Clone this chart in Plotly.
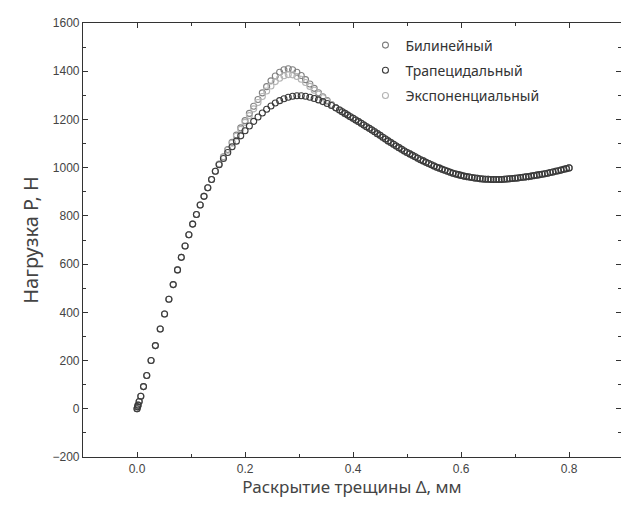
import plotly.graph_objects as go

# Shared initial (linear) branch: displacement, mm and load, N
rise_x = [0.0, 0.001, 0.002, 0.004, 0.007, 0.012, 0.018, 0.026, 0.034, 0.043, 0.051,
          0.059, 0.067, 0.075, 0.082, 0.089, 0.096, 0.103, 0.110, 0.117, 0.124,
          0.131, 0.138, 0.145]
rise_y = [0, 8, 15, 30, 52, 92, 138, 200, 262, 331, 393,
          454, 515, 576, 628, 675, 722, 766, 806, 845, 881,
          917, 951, 985]

# Peak region, per cohesive law
bil_x = [0.152, 0.160, 0.168, 0.176, 0.184, 0.192, 0.200, 0.208, 0.216, 0.224, 0.232,
         0.240, 0.248, 0.256, 0.264, 0.272, 0.280, 0.288, 0.296, 0.304, 0.312,
         0.320, 0.328, 0.336, 0.344, 0.352, 0.360, 0.368]
bil_y = [1015, 1045, 1075, 1105, 1135, 1165, 1195, 1225, 1255, 1283, 1310,
         1336, 1360, 1380, 1396, 1406, 1410, 1406, 1396, 1382, 1365,
         1347, 1329, 1311, 1294, 1278, 1262, 1248]

trap_x = [0.152, 0.160, 0.168, 0.176, 0.184, 0.192, 0.200, 0.208, 0.216, 0.224, 0.232,
          0.240, 0.248, 0.256, 0.264, 0.272, 0.280, 0.288, 0.296, 0.304, 0.312,
          0.320, 0.328, 0.336, 0.344, 0.352, 0.360, 0.368]
trap_y = [1012, 1038, 1063, 1087, 1110, 1132, 1153, 1173, 1192, 1210, 1227,
          1242, 1256, 1268, 1278, 1286, 1292, 1296, 1298, 1298, 1296,
          1292, 1287, 1281, 1274, 1266, 1258, 1248]

exp_x = [0.152, 0.160, 0.168, 0.176, 0.184, 0.192, 0.200, 0.208, 0.216, 0.224, 0.232,
         0.240, 0.248, 0.256, 0.264, 0.272, 0.280, 0.288, 0.296, 0.304, 0.312,
         0.320, 0.328, 0.336, 0.344, 0.352, 0.360, 0.368]
exp_y = [1014, 1043, 1072, 1101, 1130, 1159, 1188, 1216, 1244, 1270, 1295,
         1318, 1339, 1357, 1371, 1381, 1386, 1385, 1378, 1367, 1353,
         1337, 1321, 1305, 1290, 1275, 1261, 1248]

# Shared softening/tail branch
tail_x = [0.375, 0.380, 0.385, 0.390, 0.395, 0.400, 0.405, 0.410, 0.415, 0.420,
          0.425, 0.430, 0.435, 0.440, 0.445, 0.450, 0.455, 0.460, 0.465, 0.470,
          0.475, 0.480, 0.485, 0.490, 0.495, 0.500, 0.505, 0.510, 0.515, 0.520,
          0.525, 0.530, 0.535, 0.540, 0.545, 0.550, 0.555, 0.560, 0.565, 0.570,
          0.575, 0.580, 0.585, 0.590, 0.595, 0.600, 0.605, 0.610, 0.615, 0.620,
          0.625, 0.630, 0.635, 0.640, 0.645, 0.650, 0.655, 0.660, 0.665, 0.670,
          0.675, 0.680, 0.685, 0.690, 0.695, 0.700, 0.705, 0.710, 0.715, 0.720,
          0.725, 0.730, 0.735, 0.740, 0.745, 0.750, 0.755, 0.760, 0.765, 0.770,
          0.775, 0.780, 0.785, 0.790, 0.795, 0.800]
tail_y = [1239, 1232, 1225, 1218, 1211, 1205, 1198, 1191, 1184, 1177,
          1170, 1163, 1156, 1149, 1141, 1134, 1126, 1119, 1111, 1104,
          1097, 1090, 1083, 1076, 1069, 1063, 1057, 1051, 1045, 1039,
          1033, 1028, 1022, 1017, 1012, 1007, 1002, 998, 993, 989,
          985, 981, 977, 974, 971, 968, 965, 963, 961, 959,
          957, 956, 954, 953, 952, 952, 951, 951, 951, 951,
          951, 952, 953, 954, 955, 956, 957, 959, 960, 962,
          963, 965, 967, 969, 971, 973, 975, 977, 980, 982,
          985, 987, 990, 993, 996, 999]

names = ["Билинейный", "Трапецидальный", "Экспоненциальный"]
colors = ["#808080", "#3a3a3a", "#b4b4b4"]
series = [(bil_x, bil_y), (trap_x, trap_y), (exp_x, exp_y)]
ranks = [1, 2, 3]
draw_order = [0, 2, 1]  # trapezoidal drawn on top, as in the reference

fig = go.Figure()
for i in draw_order:
    px, py = series[i]
    fig.add_trace(go.Scatter(
        x=rise_x + px + tail_x,
        y=rise_y + py + tail_y,
        mode="markers",
        name=names[i],
        legendgroup=f"g{ranks[i]}",
        legendrank=ranks[i],
        marker=dict(symbol="circle-open", size=6, color=colors[i],
                    line=dict(width=1.1, color=colors[i])),
    ))

axis_common = dict(
    showline=True, linecolor="#333", linewidth=1.2, mirror="allticks",
    ticks="inside", ticklen=5, tickcolor="#333", showgrid=False, zeroline=False,
    tickfont=dict(family="Liberation Sans, Arial", size=12, color="#444"),
)
fig.update_layout(
    width=621, height=513,
    margin=dict(l=83, r=0, t=23, b=56),
    paper_bgcolor="white", plot_bgcolor="white",
    xaxis=dict(range=[-0.1, 0.896], tickvals=[0.0, 0.2, 0.4, 0.6, 0.8],
               ticktext=["0.0", "0.2", "0.4", "0.6", "0.8"],
               minor=dict(ticks="inside", ticklen=3, dtick=0.1, tick0=0, tickcolor="#333"),
               title=dict(text="Раскрытие трещины Δ, мм", standoff=6,
                          font=dict(family="Noto Sans, DejaVu Sans", size=17, color="#444")),
               **axis_common),
    yaxis=dict(range=[-200, 1600], dtick=200,
               minor=dict(ticks="inside", ticklen=3, dtick=100, tickcolor="#333"),
               title=dict(text="Нагрузка P, H", standoff=8,
                          font=dict(family="Noto Sans, DejaVu Sans", size=20, color="#444")),
               **axis_common),
    legend=dict(x=0.525, y=0.985, xanchor="left", yanchor="top", bgcolor="rgba(0,0,0,0)",
                font=dict(family="Noto Sans, DejaVu Sans", size=14, color="#333"),
                traceorder="grouped", tracegroupgap=4, itemwidth=30),
    showlegend=True,
)
fig.write_html("out.html")
